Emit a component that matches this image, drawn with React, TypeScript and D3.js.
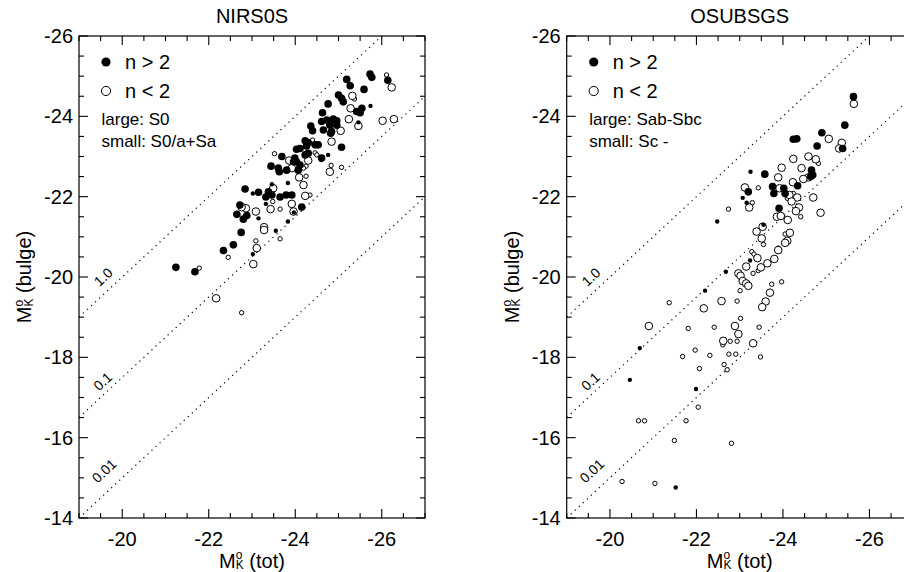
import React from "react";
import * as d3 from "d3";

// ---------- axis / annotation content ----------
const xMajorTicks = [-20, -22, -24, -26];
const yMajorTicks = [-26, -24, -22, -20, -18, -16, -14];
const ratioValues = [1.0, 0.1, 0.01];
const ratioLabels = ["1.0", "0.1", "0.01"];
const ratioLabelTot = [-19.58, -19.57, -19.6];
const ratioLabelBulge = [-19.98, -17.38, -15.15];

// ---------- NIRS0S panel data: [M_K(tot), M_K(bulge)] ----------
const nirsFilledLarge: [number, number][] = [
  [-25.73, -25.05], [-25.77, -24.97], [-26.14, -24.9], [-25.19, -24.92], [-25.27, -24.76],
  [-25.59, -24.67], [-25.0, -24.53], [-25.07, -24.45], [-25.11, -24.36], [-25.54, -24.2],
  [-25.42, -24.12], [-25.5, -24.09], [-24.76, -24.31], [-24.63, -24.09], [-24.61, -23.87],
  [-24.73, -23.91], [-24.88, -23.93], [-24.96, -23.89], [-24.8, -23.78], [-24.65, -23.66],
  [-24.84, -23.62], [-24.96, -23.78], [-24.36, -23.76], [-24.4, -23.64], [-24.82, -23.58],
  [-24.23, -23.39], [-24.3, -23.34], [-24.26, -23.26], [-24.46, -23.29], [-24.53, -23.29],
  [-25.07, -23.23], [-24.11, -23.2], [-24.03, -23.18], [-24.23, -23.04], [-24.3, -23.08],
  [-24.61, -22.96], [-23.99, -22.96], [-23.96, -22.87], [-24.03, -22.87], [-24.11, -22.79],
  [-24.07, -22.66], [-23.92, -22.04], [-24.15, -21.74], [-23.69, -23.0], [-23.44, -22.76],
  [-23.61, -22.71], [-23.63, -22.62], [-23.8, -22.66], [-22.84, -22.19], [-23.15, -22.11],
  [-23.38, -22.12], [-23.46, -22.04], [-23.32, -21.99], [-23.65, -21.99], [-23.79, -22.04],
  [-22.65, -21.56], [-22.8, -21.44], [-22.88, -21.53], [-22.72, -21.79], [-22.75, -21.11],
  [-22.34, -20.66], [-22.57, -20.8], [-21.24, -20.24], [-21.68, -20.13],
];
const nirsFilledSmall: [number, number][] = [
  [-25.74, -24.26], [-25.46, -23.85], [-24.76, -23.04], [-23.83, -22.34], [-23.02, -22.08],
  [-23.46, -22.31], [-23.32, -21.82], [-23.15, -21.46], [-23.55, -21.15], [-23.83, -21.38],
  [-23.97, -21.61], [-23.02, -20.57], [-24.6, -22.91],
];
const nirsOpenLarge: [number, number][] = [
  [-26.23, -24.72], [-25.32, -24.51], [-25.28, -24.2], [-25.24, -23.93], [-25.46, -23.76],
  [-26.02, -23.89], [-26.28, -23.93], [-25.05, -23.64], [-24.84, -23.37], [-24.3, -22.9],
  [-24.8, -22.62], [-24.09, -22.48], [-24.19, -22.29], [-24.23, -22.02], [-23.92, -21.82],
  [-23.96, -21.63], [-23.92, -22.71], [-23.86, -22.9], [-23.49, -22.21], [-23.43, -21.69],
  [-22.86, -21.71], [-22.76, -21.74], [-23.09, -21.63], [-23.28, -21.24], [-23.28, -21.17],
  [-23.11, -20.72], [-23.03, -20.32], [-22.17, -19.47],
];
const nirsOpenSmall: [number, number][] = [
  [-26.11, -25.03], [-25.37, -24.43], [-24.4, -23.41], [-24.46, -23.09], [-24.5, -23.04],
  [-24.25, -22.76], [-24.19, -22.71], [-24.83, -22.78], [-25.07, -22.73], [-24.25, -22.51],
  [-24.34, -22.04], [-23.52, -23.07], [-23.48, -21.88], [-23.65, -21.69], [-23.65, -20.95],
  [-22.45, -20.49], [-23.09, -20.9], [-21.78, -20.22], [-22.76, -19.11],
];

// ---------- OSUBSGS panel data: [M_K(tot), M_K(bulge)] ----------
const osuFilledLarge: [number, number][] = [
  [-25.63, -24.49], [-25.43, -23.78], [-24.9, -23.59], [-24.24, -23.43], [-24.32, -23.44],
  [-24.79, -23.26], [-25.38, -23.2], [-24.66, -22.66], [-24.69, -22.54], [-24.64, -22.5],
  [-23.58, -22.56], [-24.34, -22.27], [-23.76, -22.25], [-23.79, -22.08], [-24.02, -22.21],
  [-24.05, -22.08], [-23.2, -22.12], [-23.91, -21.71],
];
const osuFilledSmall: [number, number][] = [
  [-23.25, -22.62], [-23.07, -21.97], [-23.16, -21.85], [-22.48, -21.38], [-23.55, -21.3],
  [-23.24, -20.41], [-22.68, -20.13], [-22.2, -19.66], [-20.69, -18.23], [-20.46, -17.44],
  [-21.99, -17.21], [-21.52, -14.76],
];
const osuOpenLarge: [number, number][] = [
  [-25.64, -24.31], [-25.06, -23.44], [-25.36, -23.34], [-25.3, -23.2], [-24.24, -22.94],
  [-24.59, -23.0], [-24.76, -22.93], [-23.97, -22.72], [-24.43, -22.71], [-24.59, -22.48],
  [-24.47, -22.44], [-23.89, -22.48], [-24.23, -22.36], [-24.7, -21.98], [-23.92, -22.21],
  [-24.15, -22.04], [-24.33, -21.98], [-24.2, -21.88], [-23.12, -22.23], [-23.22, -21.73],
  [-24.37, -21.73], [-24.3, -21.64], [-23.86, -21.5], [-23.95, -21.52], [-24.11, -21.42],
  [-24.87, -21.6], [-23.53, -21.25], [-23.39, -21.13], [-24.16, -21.1], [-24.1, -20.9],
  [-24.05, -20.85], [-23.89, -20.67], [-23.41, -20.47], [-23.8, -20.45], [-23.64, -20.34],
  [-23.49, -20.24], [-23.15, -20.26], [-22.97, -20.09], [-23.02, -20.03], [-23.07, -19.9],
  [-23.15, -19.84], [-23.2, -19.78], [-23.7, -19.61], [-23.6, -19.39], [-23.52, -19.25],
  [-22.58, -19.4], [-22.17, -19.22], [-20.9, -18.78], [-22.89, -18.78], [-22.97, -18.58],
  [-22.62, -18.41], [-23.31, -18.35], [-23.51, -20.96],
];
const osuOpenSmall: [number, number][] = [
  [-24.82, -22.83], [-24.24, -22.08], [-24.1, -21.96], [-23.43, -22.22], [-23.29, -21.85],
  [-22.74, -21.69], [-24.41, -21.5], [-24.05, -21.07], [-23.89, -20.72], [-23.55, -20.81],
  [-23.28, -20.63], [-23.33, -20.57], [-23.43, -20.16], [-23.31, -20.09], [-23.74, -19.82],
  [-23.97, -19.88], [-23.01, -19.66], [-22.94, -19.4], [-21.37, -19.36], [-23.02, -18.97],
  [-21.81, -18.72], [-22.41, -18.75], [-23.45, -18.75], [-22.61, -18.31], [-22.78, -18.4],
  [-22.94, -18.4], [-21.97, -18.18], [-22.31, -18.05], [-22.75, -18.08], [-22.91, -18.08],
  [-21.68, -18.02], [-23.48, -18.01], [-22.64, -17.82], [-22.71, -17.69], [-22.07, -17.72],
  [-22.04, -16.76], [-20.66, -16.42], [-20.8, -16.42], [-21.76, -16.42], [-21.49, -15.93],
  [-22.81, -15.86], [-20.28, -14.91], [-21.04, -14.86],
];

// ---------- layout ----------
const W = 904;
const H = 572;
const PW = 346;
const TOP = 36;
const BOTTOM = 518;
const FONT = "'Liberation Sans', Arial, Helvetica, sans-serif";

type Pts = [number, number][];

interface PanelProps {
  id: string;
  x0: number;
  title: string;
  largeLabel: string;
  smallLabel: string;
  fl: Pts;
  fs: Pts;
  ol: Pts;
  os: Pts;
}

function Panel({ id, x0, title, largeLabel, smallLabel, fl, fs, ol, os }: PanelProps) {
  const x = d3.scaleLinear().domain([-19, -27]).range([x0, x0 + PW]);
  const y = d3.scaleLinear().domain([-26, -14]).range([TOP, BOTTOM]);
  const minorX = d3.range(0, 17).map((i) => -19 - i * 0.5);
  const minorY = d3.range(0, 25).map((i) => -26 + i * 0.5);
  const x1 = x0 + PW;
  const angle = (Math.atan2(y(-15) - y(-14), x(-20) - x(-19)) * 180) / Math.PI;
  const line = d3
    .line<[number, number]>()
    .x((d) => x(d[0]))
    .y((d) => y(d[1]));
  const rL = 3.8;
  const rS = 2.2;
  const cx = (x0 + x1) / 2;
  return (
    <g>
      <defs>
        <clipPath id={id}>
          <rect x={x0} y={TOP} width={PW} height={BOTTOM - TOP} />
        </clipPath>
      </defs>
      <text x={cx} y={23} textAnchor="middle" fontSize={20} fontFamily={FONT}>
        {title}
      </text>
      {/* ratio lines */}
      <g clipPath={`url(#${id})`}>
        {ratioValues.map((r) => {
          const off = -2.5 * Math.log10(r);
          const pts: [number, number][] = [
            [-19, -19 + off],
            [-27, -27 + off],
          ];
          return (
            <path
              key={r}
              d={line(pts) || ""}
              fill="none"
              stroke="#000"
              strokeWidth={1.2}
              strokeDasharray="1.2 4.3"
            />
          );
        })}
      </g>
      {ratioLabels.map((t, i) => (
        <text
          key={t}
          x={x(ratioLabelTot[i])}
          y={y(ratioLabelBulge[i])}
          fontSize={14}
          fontFamily={FONT}
          textAnchor="middle"
          dominantBaseline="middle"
          transform={`rotate(${angle} ${x(ratioLabelTot[i])} ${y(ratioLabelBulge[i])})`}
        >
          {t}
        </text>
      ))}
      {/* points */}
      {os.map((d, i) => (
        <circle key={"os" + i} cx={x(d[0])} cy={y(d[1])} r={rS} fill="#fff" stroke="#000" strokeWidth={1} />
      ))}
      {ol.map((d, i) => (
        <circle key={"ol" + i} cx={x(d[0])} cy={y(d[1])} r={rL} fill="#fff" stroke="#000" strokeWidth={1} />
      ))}
      {fl.map((d, i) => (
        <circle key={"fl" + i} cx={x(d[0])} cy={y(d[1])} r={rL} fill="#000" />
      ))}
      {fs.map((d, i) => (
        <circle key={"fs" + i} cx={x(d[0])} cy={y(d[1])} r={rS} fill="#000" />
      ))}
      {/* frame */}
      <rect x={x0} y={TOP} width={PW} height={BOTTOM - TOP} fill="none" stroke="#000" strokeWidth={1.2} />
      {/* ticks */}
      {minorX.map((v) => {
        const len = xMajorTicks.includes(v) ? 9 : 5;
        return (
          <g key={"tx" + v}>
            <line x1={x(v)} x2={x(v)} y1={BOTTOM} y2={BOTTOM - len} stroke="#000" strokeWidth={1.1} />
            <line x1={x(v)} x2={x(v)} y1={TOP} y2={TOP + len} stroke="#000" strokeWidth={1.1} />
          </g>
        );
      })}
      {minorY.map((v) => {
        const len = yMajorTicks.includes(v) ? 9 : 5;
        return (
          <g key={"ty" + v}>
            <line x1={x0} x2={x0 + len} y1={y(v)} y2={y(v)} stroke="#000" strokeWidth={1.1} />
            {x1 < W && (
              <line x1={x1} x2={x1 - len} y1={y(v)} y2={y(v)} stroke="#000" strokeWidth={1.1} />
            )}
          </g>
        );
      })}
      {xMajorTicks.map((v) => (
        <text key={"lx" + v} x={x(v)} y={546} textAnchor="middle" fontSize={20} fontFamily={FONT}>
          {v}
        </text>
      ))}
      {yMajorTicks.map((v) => (
        <text key={"ly" + v} x={x0 - 6} y={y(v) + 7} textAnchor="end" fontSize={20} fontFamily={FONT}>
          {v}
        </text>
      ))}
      {/* axis titles */}
      <text x={cx} y={567.5} textAnchor="middle" fontSize={20} fontFamily={FONT}>
        <tspan>M</tspan>
        <tspan fontSize={12} dy={-8.2}>o</tspan>
        <tspan fontSize={12} dx={-6.7} dy={9.7}>K</tspan>
        <tspan dy={-1.5}> (tot)</tspan>
      </text>
      <text
        transform={`translate(${x0 - 48},${(TOP + BOTTOM) / 2}) rotate(-90)`}
        textAnchor="middle"
        fontSize={20}
        fontFamily={FONT}
      >
        <tspan>M</tspan>
        <tspan fontSize={12} dy={-8.2}>o</tspan>
        <tspan fontSize={12} dx={-6.7} dy={9.7}>K</tspan>
        <tspan dy={-1.5}> (bulge)</tspan>
      </text>
      {/* legend */}
      <circle cx={x0 + 27} cy={62} r={4.6} fill="#000" />
      <text x={x0 + 46} y={68.5} fontSize={20} fontFamily={FONT}>
        {"n > 2"}
      </text>
      <circle cx={x0 + 27} cy={91} r={4.6} fill="#fff" stroke="#000" strokeWidth={1} />
      <text x={x0 + 46} y={97.5} fontSize={20} fontFamily={FONT}>
        {"n < 2"}
      </text>
      <text x={x0 + 22.5} y={125} fontSize={17} fontFamily={FONT}>
        {largeLabel}
      </text>
      <text x={x0 + 22.5} y={147} fontSize={17} fontFamily={FONT}>
        {smallLabel}
      </text>
    </g>
  );
}

export default function App() {
  return (
    <svg
      width={W}
      height={H}
      viewBox={`0 0 ${W} ${H}`}
      style={{ position: "absolute", left: 0, top: 0, background: "#fff", display: "block" }}
    >
      <rect x={0} y={0} width={W} height={H} fill="#fff" />
      <Panel
        id="clipA"
        x0={79}
        title="NIRS0S"
        largeLabel="large: S0"
        smallLabel="small: S0/a+Sa"
        fl={nirsFilledLarge}
        fs={nirsFilledSmall}
        ol={nirsOpenLarge}
        os={nirsOpenSmall}
      />
      <Panel
        id="clipB"
        x0={566.7}
        title="OSUBSGS"
        largeLabel="large: Sab-Sbc"
        smallLabel="small: Sc -"
        fl={osuFilledLarge}
        fs={osuFilledSmall}
        ol={osuOpenLarge}
        os={osuOpenSmall}
      />
    </svg>
  );
}
